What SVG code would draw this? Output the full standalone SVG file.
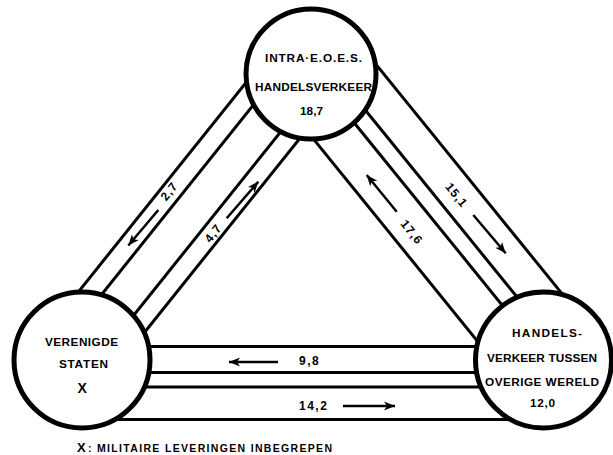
<svg xmlns="http://www.w3.org/2000/svg" width="613" height="455" viewBox="0 0 613 455">
<style>
.band{stroke:#000;stroke-width:3;fill:none}
.arr{stroke:#000;stroke-width:2.5;fill:none;marker-end:url(#ah)}
.node{fill:#fff;stroke:#000;stroke-width:5}
text{font-family:"Liberation Sans",Arial,sans-serif;font-weight:bold;fill:#000}
.nt{font-size:11.8px}
.lb{font-size:12px;letter-spacing:1px;text-anchor:middle}
.num{font-size:12px;letter-spacing:1.5px}
.fn{font-size:10.5px}
</style>
<defs>
<marker id="ah" markerUnits="userSpaceOnUse" markerWidth="13" markerHeight="10" refX="11" refY="5" orient="auto">
<path d="M0,0.5 L11,5 L0,9.5 L3,5 z" fill="#000"/>
</marker>
</defs>
<rect width="613" height="455" fill="#fff"/>
<g id="connectors">
<line class="band" x1="275.6" y1="45.6" x2="46.6" y2="331.6"/>
<line class="band" x1="291" y1="58" x2="62" y2="344"/>
<line class="band" x1="320.7" y1="81.75" x2="91.7" y2="367.75"/>
<line class="band" x1="335.6" y1="93.7" x2="106.6" y2="379.7"/>
<line class="band" x1="354.9" y1="38.4" x2="586.9" y2="324.4"/>
<line class="band" x1="326.1" y1="61.7" x2="558.1" y2="347.7"/>
<line class="band" x1="313.2" y1="72.2" x2="545.2" y2="358.2"/>
<line class="band" x1="280.7" y1="98.6" x2="512.7" y2="384.6"/>
<line class="band" x1="82" y1="346.5" x2="543" y2="346.5"/>
<line class="band" x1="82" y1="372.5" x2="543" y2="372.5"/>
<line class="band" x1="82" y1="387" x2="543" y2="387"/>
<line class="band" x1="82" y1="419.5" x2="543" y2="419.5"/>
<line class="arr" x1="158.3" y1="210" x2="128.3" y2="245.5"/>
<line class="arr" x1="226.7" y1="218.3" x2="258.3" y2="181.7"/>
<line class="arr" x1="473.3" y1="215" x2="505.7" y2="253.3"/>
<line class="arr" x1="396.7" y1="211.7" x2="366.7" y2="175"/>
<line class="arr" x1="278" y1="362" x2="229" y2="362"/>
<line class="arr" x1="343" y1="406" x2="395" y2="406"/>
<text class="lb" transform="translate(169,191) rotate(-51.3)" dy="0.36em">2,7</text>
<text class="lb" transform="translate(213,233) rotate(-51.3)" dy="0.36em">4,7</text>
<text class="lb" transform="translate(456.7,195) rotate(50.9)" dy="0.36em">15,1</text>
<text class="lb" transform="translate(412,232) rotate(50.9)" dy="0.36em">17,6</text>
<text class="num" x="299" y="364.5">9,8</text>
<text class="num" x="299" y="409.5">14,2</text>
</g>
<g id="node-intra">
<circle class="node" cx="311" cy="74" r="65"/>
<text class="nt" x="265" y="62" textLength="97">INTRA·E.O.E.S.</text>
<text class="nt" x="255" y="91" textLength="117">HANDELSVERKEER</text>
<text class="nt" x="300" y="115" textLength="23">18,7</text>
</g>
<g id="node-vs">
<circle class="node" cx="82" cy="360" r="68"/>
<text class="nt" x="45" y="346" textLength="73">VERENIGDE</text>
<text class="nt" x="59" y="368" textLength="49">STATEN</text>
<text x="77.5" y="393" style="font-size:14px">X</text>
</g>
<g id="node-overig">
<circle class="node" cx="543.5" cy="360" r="68"/>
<text class="nt" x="512" y="337" textLength="70">HANDELS-</text>
<text class="nt" x="487" y="362" textLength="110">VERKEER TUSSEN</text>
<text class="nt" x="485" y="386" textLength="114">OVERIGE WERELD</text>
<text class="nt" x="530" y="407" textLength="25">12,0</text>
</g>
<g id="footnote">
<text x="77" y="452" style="font-size:13px">X</text>
<text class="fn" x="88" y="452" textLength="244">: MILITAIRE LEVERINGEN INBEGREPEN</text>
</g>
</svg>
